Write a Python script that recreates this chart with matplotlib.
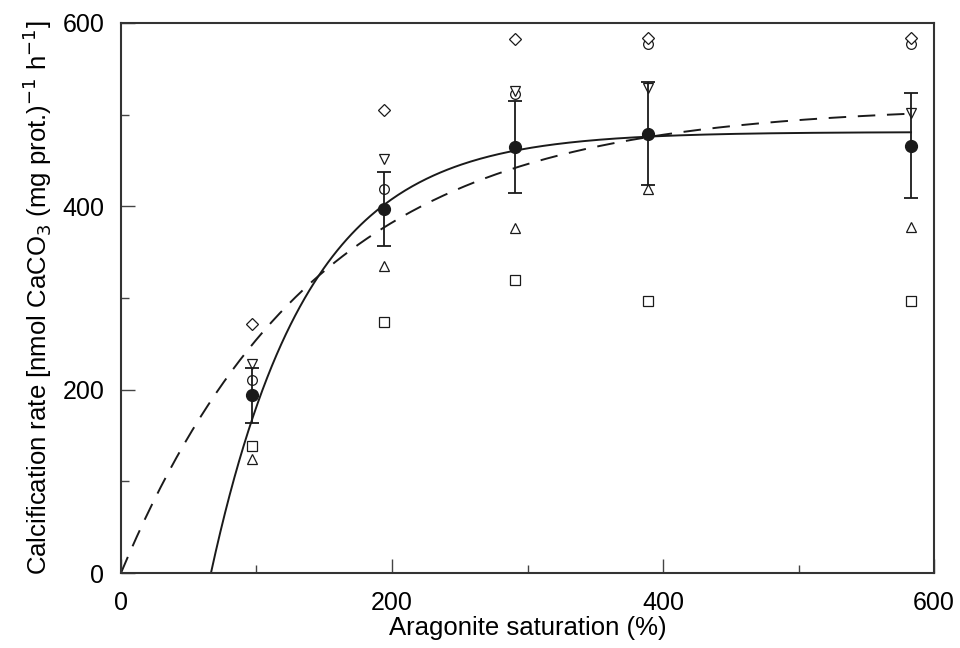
import numpy as np
import matplotlib
matplotlib.use("Agg")
import matplotlib.pyplot as plt
from matplotlib.ticker import MultipleLocator

# aragonite saturation (%)
sat = [97, 194, 291, 389, 583]

# single experiments
diamond = [272, 505, 582, 583, 583]
tri_down = [228, 452, 526, 529, 502]
circle = [211, 419, 522, 577, 577]
tri_up = [124, 335, 376, 419, 377]
square = [138, 274, 320, 297, 297]

# mean +/- error
mean_rate = [194, 397, 465, 479, 466]
mean_err = [30, 40, 50, 56, 57]

# fitted curves
solid_pmax, solid_k, solid_x0 = 481, 0.0141, 66.4
dash_pmax, dash_k = 510, 0.00692

plt.rcParams["font.family"] = ["Liberation Sans", "DejaVu Sans"]
ink = "#1a1a1a"

fig = plt.figure(figsize=(9.6, 6.48), dpi=100)
ax = fig.add_axes([0.126, 0.1157, 0.847, 0.849])

xs = np.linspace(solid_x0, sat[-1], 300)
ax.plot(xs, solid_pmax * (1 - np.exp(-solid_k * (xs - solid_x0))), color=ink, lw=1.4)
xd = np.linspace(0, sat[-1], 300)
ax.plot(xd, dash_pmax * (1 - np.exp(-dash_k * xd)), color=ink, lw=1.4, dashes=(9, 6))

mk = dict(ls="none", mfc="white", mec=ink, mew=0.9, ms=7)
ax.plot(sat, square, marker="s", **mk)
ax.plot(sat, tri_up, marker="^", **mk)
ax.plot(sat, circle, marker="o", **mk)
ax.plot(sat, tri_down, marker="v", **mk)
ax.plot(sat, diamond, marker="D", **dict(mk, ms=6.5))

ax.errorbar(sat, mean_rate, yerr=mean_err, fmt="o", color=ink, ms=8.5,
            ecolor=ink, elinewidth=1.3, capsize=5, capthick=1.3, zorder=5)

ax.set_xlim(0, 600)
ax.set_ylim(0, 600)
ax.xaxis.set_major_locator(MultipleLocator(200))
ax.xaxis.set_minor_locator(MultipleLocator(100))
ax.yaxis.set_major_locator(MultipleLocator(200))
ax.yaxis.set_minor_locator(MultipleLocator(100))
ax.tick_params(which="both", direction="in", color="#444", labelsize=18, width=1)
ax.tick_params(which="major", length=10)
ax.tick_params(axis="x", which="major", pad=13)
ax.tick_params(axis="y", which="major", pad=12)
ax.tick_params(which="minor", length=6)
for s in ax.spines.values():
    s.set_color("#333")
    s.set_linewidth(1.5)

ax.set_xlabel("Aragonite saturation (%)", fontsize=18.5, labelpad=1)
ax.set_ylabel("Calcification rate [nmol CaCO$_3$ (mg prot.)$^{-1}$ h$^{-1}$]",
              fontsize=18.5, labelpad=6)

fig.savefig("out.png", dpi=100)
